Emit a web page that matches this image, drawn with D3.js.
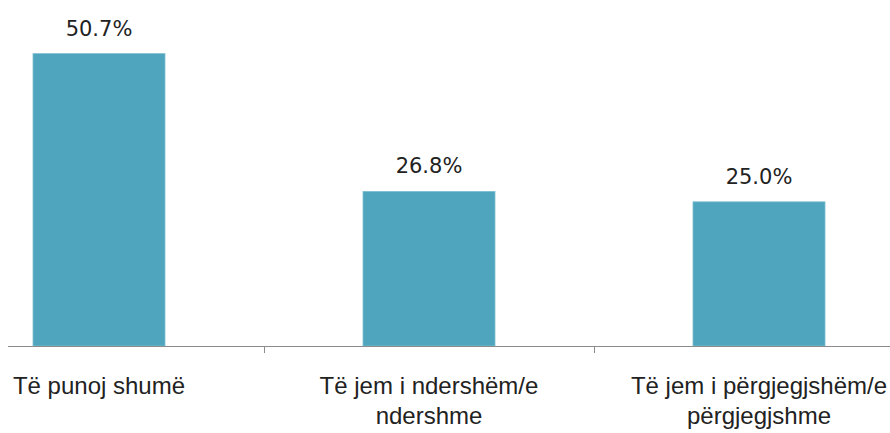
<!DOCTYPE html>
<html>
<head>
<meta charset="utf-8">
<script src="https://cdn.jsdelivr.net/npm/d3@7"></script>
<style>
  html, body { margin: 0; padding: 0; background: #fff; }
  svg { display: block; }
  .cat-label { font-family: "Liberation Sans", Arial, sans-serif; font-size: 24px; fill: #222; }
  .val-label { font-family: "DejaVu Sans", Verdana, sans-serif; font-size: 21px; fill: #222; }
</style>
</head>
<body>
<svg id="chart" width="890" height="433"></svg>
<script>
const categories = [
  ['Të punoj shumë'],
  ['Të jem i ndershëm/e', 'ndershme'],
  ['Të jem i përgjegjshëm/e', 'përgjegjshme']
];
const values = [50.7, 26.8, 25.0];

const width = 890;
const baseline = 346;

const svg = d3.select('#chart');

// plot area runs past the right edge, as in the original crop
const x = d3.scaleBand()
  .domain(d3.range(categories.length))
  .range([-66, 924])
  .paddingInner(0.6)
  .paddingOuter(0.3);

const y = d3.scaleLinear().domain([0, 60]).range([baseline, 0]);

const step = x.step();

svg.selectAll('rect.bar')
  .data(values)
  .join('rect')
  .attr('class', 'bar')
  .attr('x', (d, i) => x(i))
  .attr('y', (d) => y(d))
  .attr('width', x.bandwidth())
  .attr('height', (d) => baseline - y(d))
  .attr('fill', '#4fa5bd')
  .attr('stroke', '#7cbfd1')
  .attr('stroke-width', 0.8);

svg.selectAll('text.val-label')
  .data(values)
  .join('text')
  .attr('class', 'val-label')
  .attr('x', (d, i) => x(i) + x.bandwidth() / 2)
  .attr('y', (d) => y(d) - 18)
  .attr('text-anchor', 'middle')
  .text((d) => d.toFixed(1) + '%');

// category axis
svg.append('line')
  .attr('x1', 8).attr('x2', width)
  .attr('y1', baseline + 0.5).attr('y2', baseline + 0.5)
  .attr('stroke', '#8c8c8c')
  .attr('stroke-width', 1);

svg.selectAll('line.tick')
  .data(d3.range(1, categories.length))
  .join('line')
  .attr('class', 'tick')
  .attr('x1', (d) => Math.round(x(d) - (step - x.bandwidth()) / 2) + 0.5)
  .attr('x2', (d) => Math.round(x(d) - (step - x.bandwidth()) / 2) + 0.5)
  .attr('y1', baseline)
  .attr('y2', baseline + 7)
  .attr('stroke', '#8c8c8c');

const labels = svg.selectAll('text.cat-label')
  .data(categories)
  .join('text')
  .attr('class', 'cat-label')
  .attr('text-anchor', 'middle')
  .attr('x', (d, i) => x(i) + x.bandwidth() / 2)
  .attr('y', 394);

labels.selectAll('tspan')
  .data((d, i) => d.map((t) => ({ t, i })))
  .join('tspan')
  .attr('x', (d) => x(d.i) + x.bandwidth() / 2)
  .attr('dy', (d, j) => (j === 0 ? 0 : 30))
  .text((d) => d.t);
</script>
</body>
</html>
